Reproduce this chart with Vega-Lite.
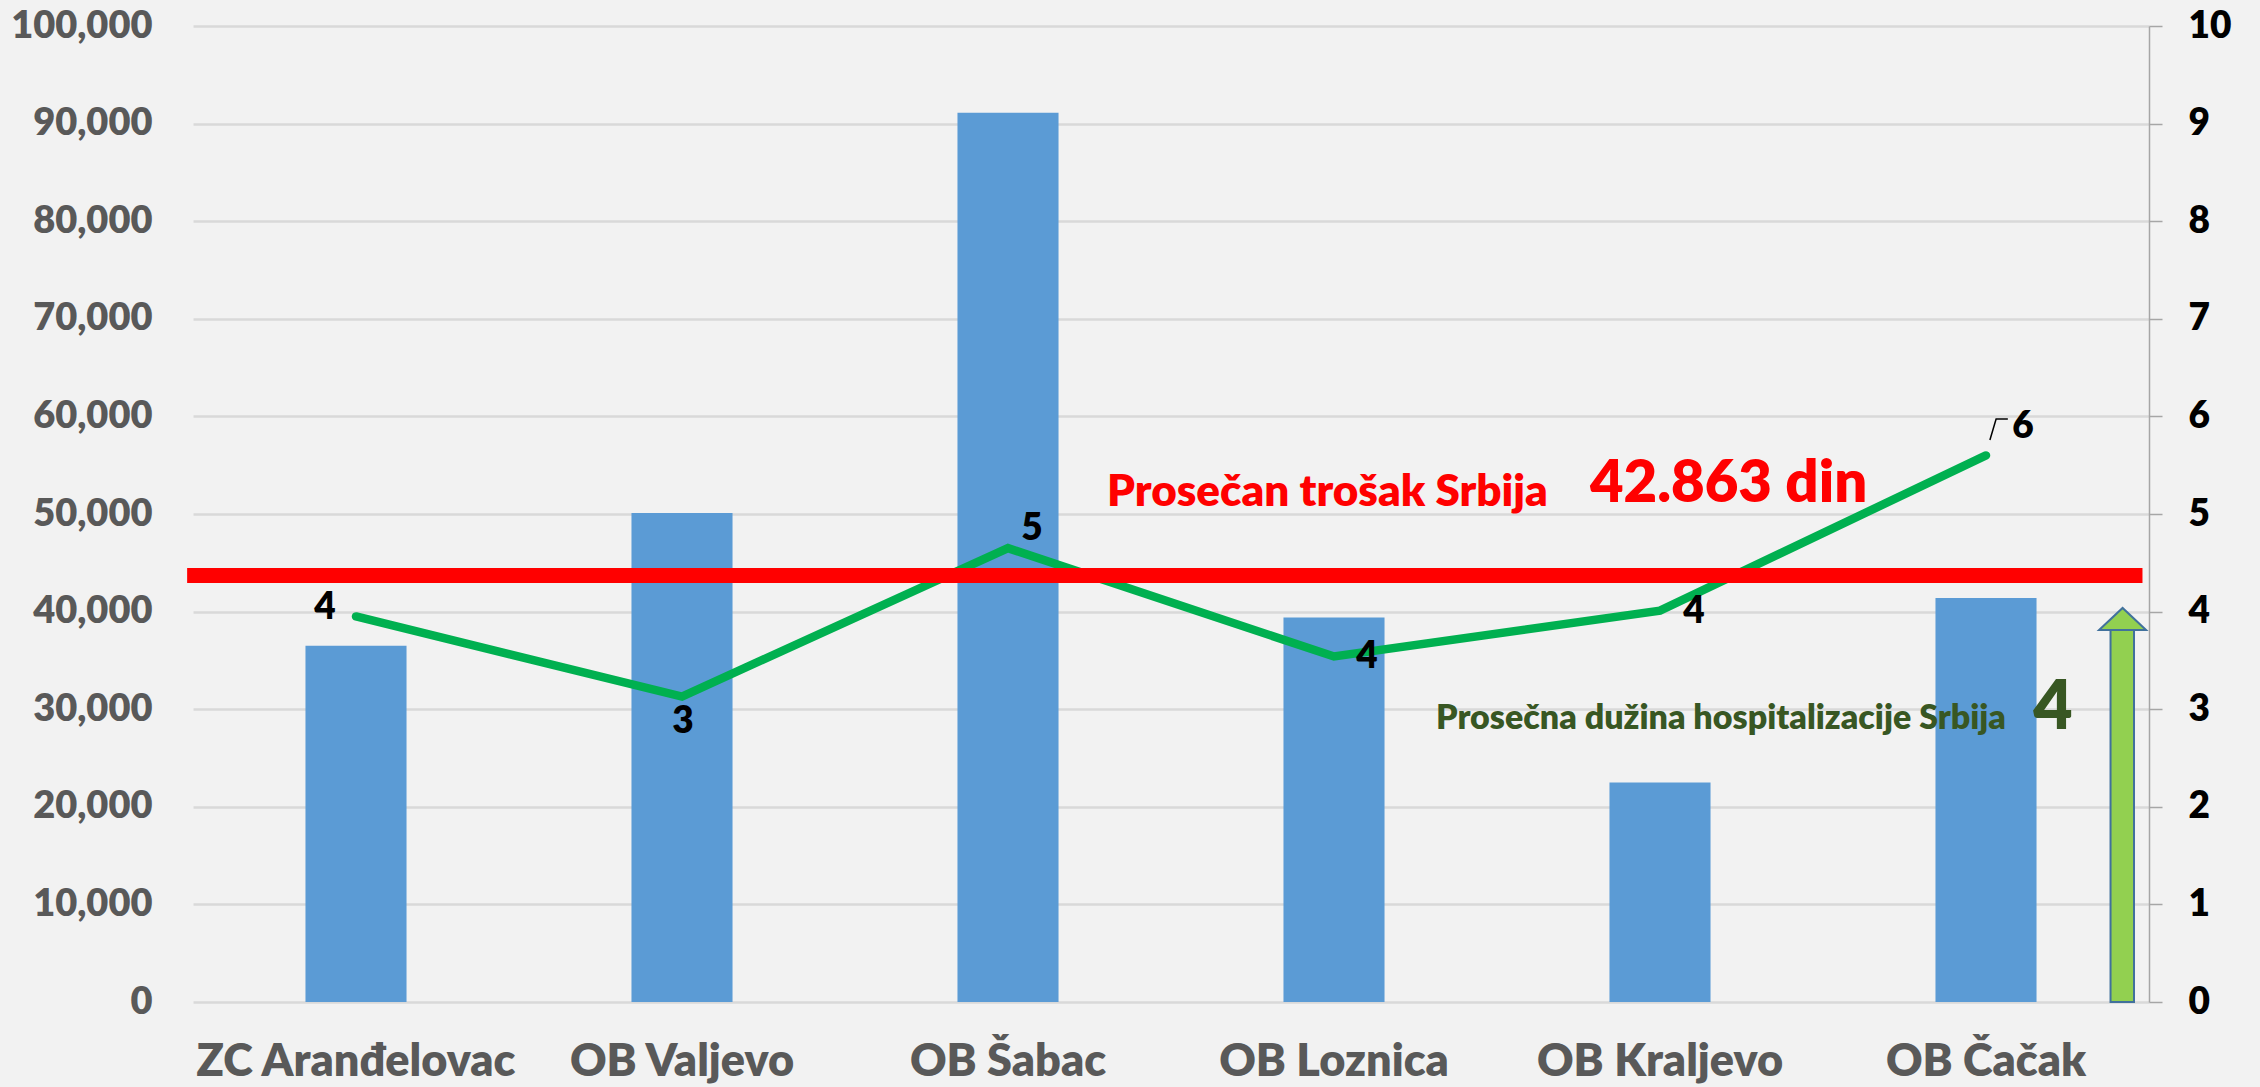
{
  "$schema": "https://vega.github.io/schema/vega-lite/v6.json",
  "width": 1956,
  "height": 976,
  "autosize": {"type": "none"},
  "padding": {"left": 193, "top": 26, "right": 111, "bottom": 85},
  "background": "#f2f2f2",
  "config": {"view": {"stroke": null}, "font": "Lato"},
  "datasets": {
    "hosp": [
      {"bolnica": "ZC Aranđelovac", "trosak": 36500, "dani": 3.95},
      {"bolnica": "OB Valjevo", "trosak": 50100, "dani": 3.13},
      {"bolnica": "OB Šabac", "trosak": 91100, "dani": 4.65},
      {"bolnica": "OB Loznica", "trosak": 39400, "dani": 3.54},
      {"bolnica": "OB Kraljevo", "trosak": 22500, "dani": 4.01},
      {"bolnica": "OB Čačak", "trosak": 41400, "dani": 5.6}
    ]
  },
  "layer": [
    {
      "data": {"name": "hosp"},
      "mark": {"type": "bar", "color": "#5B9BD5"},
      "encoding": {
        "x": {
          "field": "bolnica", "type": "nominal", "sort": null,
          "scale": {"type": "band", "paddingInner": 0.69, "paddingOuter": 0.345},
          "axis": {"title": null, "labelAngle": 0, "labelFont": "Lato", "labelFontSize": 45, "labelFontWeight": 800, "labelColor": "#595959", "ticks": false, "domain": false, "grid": false, "labelPadding": 37, "labelLimit": 0, "labelOverlap": false}
        },
        "y": {
          "field": "trosak", "type": "quantitative",
          "scale": {"domain": [0, 100000], "nice": false},
          "axis": {"title": null, "values": [0, 10000, 20000, 30000, 40000, 50000, 60000, 70000, 80000, 90000, 100000], "format": ",d", "grid": true, "gridColor": "#d9d9d9", "gridWidth": 2.5, "domain": false, "ticks": false, "labelFont": "Lato", "labelFontSize": 38, "labelFontWeight": 800, "labelColor": "#595959", "labelPadding": 41}
        }
      }
    },
    {
      "data": {"name": "hosp"},
      "encoding": {
        "x": {"field": "bolnica", "type": "nominal", "sort": null, "scale": {"type": "point", "padding": 0.5}, "axis": null},
        "y": {
          "field": "dani", "type": "quantitative",
          "scale": {"domain": [0, 10], "nice": false},
          "axis": {"orient": "right", "title": null, "values": [0, 1, 2, 3, 4, 5, 6, 7, 8, 9, 10], "grid": false, "domain": true, "domainColor": "#a6a6a6", "domainWidth": 1.5, "ticks": true, "tickColor": "#a6a6a6", "tickWidth": 1.5, "tickSize": 13, "labelFont": "Lato", "labelFontSize": 37, "labelFontWeight": 800, "labelColor": "#000000", "labelPadding": 26}
        }
      },
      "layer": [
        {"mark": {"type": "line", "color": "#00B050", "strokeWidth": 8.5, "strokeCap": "round"}},
        {"transform": [{"filter": "datum.bolnica === 'ZC Aranđelovac'"}], "mark": {"type": "text", "font": "Lato", "fontSize": 37, "fontWeight": 800, "color": "#000000", "align": "center", "baseline": "middle", "dx": -31, "dy": -8}, "encoding": {"text": {"field": "dani", "type": "quantitative", "format": ".0f"}}},
        {"transform": [{"filter": "datum.bolnica === 'OB Valjevo'"}], "mark": {"type": "text", "font": "Lato", "fontSize": 37, "fontWeight": 800, "color": "#000000", "align": "center", "baseline": "middle", "dx": 1, "dy": 25}, "encoding": {"text": {"field": "dani", "type": "quantitative", "format": ".0f"}}},
        {"transform": [{"filter": "datum.bolnica === 'OB Šabac'"}], "mark": {"type": "text", "font": "Lato", "fontSize": 37, "fontWeight": 800, "color": "#000000", "align": "center", "baseline": "middle", "dx": 24, "dy": -19}, "encoding": {"text": {"field": "dani", "type": "quantitative", "format": ".0f"}}},
        {"transform": [{"filter": "datum.bolnica === 'OB Loznica'"}], "mark": {"type": "text", "font": "Lato", "fontSize": 37, "fontWeight": 800, "color": "#000000", "align": "center", "baseline": "middle", "dx": 33, "dy": 1}, "encoding": {"text": {"field": "dani", "type": "quantitative", "format": ".0f"}}},
        {"transform": [{"filter": "datum.bolnica === 'OB Kraljevo'"}], "mark": {"type": "text", "font": "Lato", "fontSize": 37, "fontWeight": 800, "color": "#000000", "align": "center", "baseline": "middle", "dx": 34, "dy": 1}, "encoding": {"text": {"field": "dani", "type": "quantitative", "format": ".0f"}}},
        {"transform": [{"filter": "datum.bolnica === 'OB Čačak'"}], "mark": {"type": "text", "font": "Lato", "fontSize": 37, "fontWeight": 800, "color": "#000000", "align": "center", "baseline": "middle", "dx": 37, "dy": -28}, "encoding": {"text": {"field": "dani", "type": "quantitative", "format": ".0f"}}}
      ]
    },
    {
      "layer": [
        {
          "data": {"values": [{"x1": -0.018, "x2": 5.98, "y": 4.37}]},
          "mark": {"type": "rule", "color": "#FF0000", "strokeWidth": 15, "strokeCap": "butt"},
          "encoding": {
            "x": {"field": "x1", "type": "quantitative", "scale": {"domain": [0, 6], "nice": false, "zero": false}, "axis": null},
            "x2": {"field": "x2"},
            "y": {"field": "y", "type": "quantitative", "scale": {"domain": [0, 10], "nice": false}, "axis": null}
          }
        },
        {
          "data": {"values": [{"t": "Prosečan trošak Srbija", "x": 2.804, "y": 5.082}]},
          "mark": {"type": "text", "font": "Lato", "fontSize": 44, "fontWeight": 800, "color": "#FF0000", "align": "left", "baseline": "alphabetic"},
          "encoding": {
            "x": {"field": "x", "type": "quantitative", "scale": {"domain": [0, 6], "nice": false, "zero": false}, "axis": null},
            "y": {"field": "y", "type": "quantitative", "scale": {"domain": [0, 10], "nice": false}, "axis": null},
            "text": {"field": "t"}
          }
        },
        {
          "data": {"values": [{"t": "42.863 din", "x": 4.285, "y": 5.126}]},
          "mark": {"type": "text", "font": "Lato", "fontSize": 58, "fontWeight": 800, "color": "#FF0000", "align": "left", "baseline": "alphabetic"},
          "encoding": {
            "x": {"field": "x", "type": "quantitative", "scale": {"domain": [0, 6], "nice": false, "zero": false}, "axis": null},
            "y": {"field": "y", "type": "quantitative", "scale": {"domain": [0, 10], "nice": false}, "axis": null},
            "text": {"field": "t"}
          }
        },
        {
          "data": {"values": [{"t": "Prosečna dužina hospitalizacije Srbija", "x": 3.813, "y": 2.797}]},
          "mark": {"type": "text", "font": "Lato", "fontSize": 34, "fontWeight": 800, "color": "#385723", "align": "left", "baseline": "alphabetic"},
          "encoding": {
            "x": {"field": "x", "type": "quantitative", "scale": {"domain": [0, 6], "nice": false, "zero": false}, "axis": null},
            "y": {"field": "y", "type": "quantitative", "scale": {"domain": [0, 10], "nice": false}, "axis": null},
            "text": {"field": "t"}
          }
        },
        {
          "data": {"values": [{"t": "4", "x": 5.645, "y": 2.797}]},
          "mark": {"type": "text", "font": "Lato", "fontSize": 68, "fontWeight": 800, "color": "#385723", "align": "left", "baseline": "alphabetic"},
          "encoding": {
            "x": {"field": "x", "type": "quantitative", "scale": {"domain": [0, 6], "nice": false, "zero": false}, "axis": null},
            "y": {"field": "y", "type": "quantitative", "scale": {"domain": [0, 10], "nice": false}, "axis": null},
            "text": {"field": "t"}
          }
        },
        {
          "data": {"values": [{"x1": 5.882, "x2": 5.954, "y1": 0, "y2": 3.811}]},
          "mark": {"type": "rect", "fill": "#92D050", "stroke": "#41719C", "strokeWidth": 2},
          "encoding": {
            "x": {"field": "x1", "type": "quantitative", "scale": {"domain": [0, 6], "nice": false, "zero": false}, "axis": null},
            "x2": {"field": "x2"},
            "y": {"field": "y1", "type": "quantitative", "scale": {"domain": [0, 10], "nice": false}, "axis": null},
            "y2": {"field": "y2"}
          }
        },
        {
          "data": {"values": [{"x": 5.919, "y": 3.924}]},
          "mark": {"type": "point", "shape": "M-1,0.47 L0,-0.47 L1,0.47 Z", "size": 2209, "filled": true, "fill": "#92D050", "stroke": "#41719C", "strokeWidth": 2, "opacity": 1, "fillOpacity": 1},
          "encoding": {
            "x": {"field": "x", "type": "quantitative", "scale": {"domain": [0, 6], "nice": false, "zero": false}, "axis": null},
            "y": {"field": "y", "type": "quantitative", "scale": {"domain": [0, 10], "nice": false}, "axis": null}
          }
        },
        {
          "data": {"values": [{"x": 5.512, "y": 5.758, "o": 1}, {"x": 5.531, "y": 5.973, "o": 2}, {"x": 5.567, "y": 5.973, "o": 3}]},
          "mark": {"type": "line", "color": "#000000", "strokeWidth": 1.5},
          "encoding": {
            "x": {"field": "x", "type": "quantitative", "scale": {"domain": [0, 6], "nice": false, "zero": false}, "axis": null},
            "y": {"field": "y", "type": "quantitative", "scale": {"domain": [0, 10], "nice": false}, "axis": null},
            "order": {"field": "o"}
          }
        }
      ]
    }
  ],
  "resolve": {"scale": {"x": "independent", "y": "independent"}}
}
